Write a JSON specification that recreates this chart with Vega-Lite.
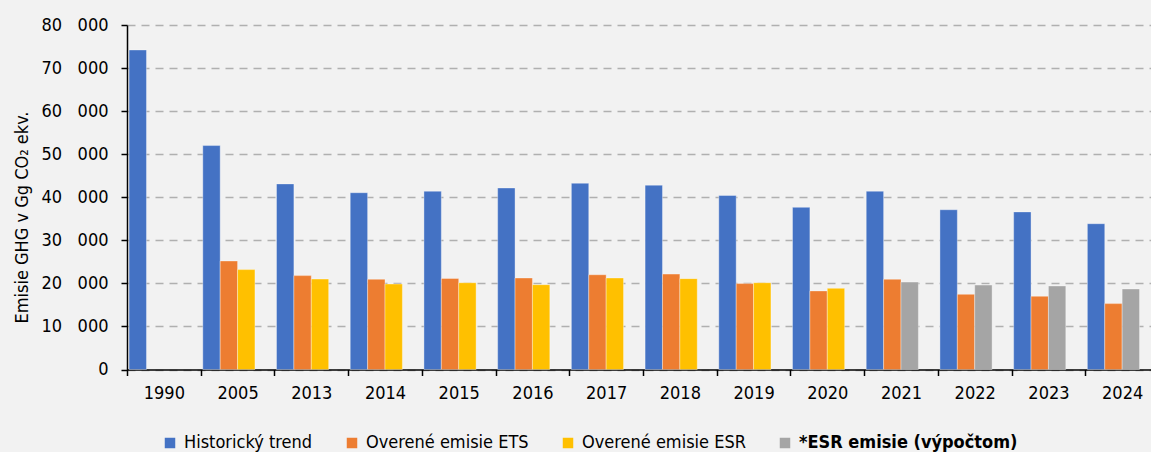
{
  "$schema": "https://vega.github.io/schema/vega-lite/v6.json",
  "autosize": "none",
  "padding": {"left": 127, "top": 25, "right": 0, "bottom": 83},
  "width": 1032,
  "height": 344.5,
  "background": "#f2f2f2",
  "config": {
    "view": {"stroke": null},
    "font": "'Liberation Sans Narrow', 'DejaVu Sans Condensed', sans-serif"
  },
  "data": {
    "values": [
      {"year": "1990", "series": "Historický trend", "slot": "a", "value": 74200},
      {"year": "2005", "series": "Historický trend", "slot": "a", "value": 52000},
      {"year": "2013", "series": "Historický trend", "slot": "a", "value": 43100},
      {"year": "2014", "series": "Historický trend", "slot": "a", "value": 41050},
      {"year": "2015", "series": "Historický trend", "slot": "a", "value": 41400},
      {"year": "2016", "series": "Historický trend", "slot": "a", "value": 42150},
      {"year": "2017", "series": "Historický trend", "slot": "a", "value": 43250},
      {"year": "2018", "series": "Historický trend", "slot": "a", "value": 42800},
      {"year": "2019", "series": "Historický trend", "slot": "a", "value": 40400},
      {"year": "2020", "series": "Historický trend", "slot": "a", "value": 37650},
      {"year": "2021", "series": "Historický trend", "slot": "a", "value": 41400},
      {"year": "2022", "series": "Historický trend", "slot": "a", "value": 37100},
      {"year": "2023", "series": "Historický trend", "slot": "a", "value": 36600},
      {"year": "2024", "series": "Historický trend", "slot": "a", "value": 33850},
      {"year": "2005", "series": "Overené emisie ETS", "slot": "b", "value": 25200},
      {"year": "2013", "series": "Overené emisie ETS", "slot": "b", "value": 21800},
      {"year": "2014", "series": "Overené emisie ETS", "slot": "b", "value": 20950},
      {"year": "2015", "series": "Overené emisie ETS", "slot": "b", "value": 21150},
      {"year": "2016", "series": "Overené emisie ETS", "slot": "b", "value": 21250},
      {"year": "2017", "series": "Overené emisie ETS", "slot": "b", "value": 22000},
      {"year": "2018", "series": "Overené emisie ETS", "slot": "b", "value": 22150},
      {"year": "2019", "series": "Overené emisie ETS", "slot": "b", "value": 19950},
      {"year": "2020", "series": "Overené emisie ETS", "slot": "b", "value": 18250},
      {"year": "2021", "series": "Overené emisie ETS", "slot": "b", "value": 20950},
      {"year": "2022", "series": "Overené emisie ETS", "slot": "b", "value": 17450},
      {"year": "2023", "series": "Overené emisie ETS", "slot": "b", "value": 17000},
      {"year": "2024", "series": "Overené emisie ETS", "slot": "b", "value": 15300},
      {"year": "2005", "series": "Overené emisie ESR", "slot": "c", "value": 23200},
      {"year": "2013", "series": "Overené emisie ESR", "slot": "c", "value": 21000},
      {"year": "2014", "series": "Overené emisie ESR", "slot": "c", "value": 19850},
      {"year": "2015", "series": "Overené emisie ESR", "slot": "c", "value": 20150},
      {"year": "2016", "series": "Overené emisie ESR", "slot": "c", "value": 19700},
      {"year": "2017", "series": "Overené emisie ESR", "slot": "c", "value": 21250},
      {"year": "2018", "series": "Overené emisie ESR", "slot": "c", "value": 21100},
      {"year": "2019", "series": "Overené emisie ESR", "slot": "c", "value": 20150},
      {"year": "2020", "series": "Overené emisie ESR", "slot": "c", "value": 18850},
      {"year": "2021", "series": "*ESR emisie (výpočtom)", "slot": "c", "value": 20300},
      {"year": "2022", "series": "*ESR emisie (výpočtom)", "slot": "c", "value": 19600},
      {"year": "2023", "series": "*ESR emisie (výpočtom)", "slot": "c", "value": 19400},
      {"year": "2024", "series": "*ESR emisie (výpočtom)", "slot": "c", "value": 18700}
    ]
  },
  "mark": {"type": "bar", "stroke": "#ffffff", "strokeOpacity": 0.35, "strokeWidth": 1},
  "encoding": {
    "x": {
      "field": "year",
      "type": "nominal",
      "scale": {"paddingInner": 0, "paddingOuter": 0},
      "axis": {
        "title": null,
        "labelAngle": 0,
        "labelFontSize": 18,
        "labelColor": "#000000",
        "labelPadding": 9,
        "tickBand": "extent",
        "tickSize": 6,
        "tickColor": "#000000",
        "tickWidth": 1.5,
        "domainColor": "#000000",
        "domainWidth": 1.5,
        "grid": false
      }
    },
    "xOffset": {
      "field": "slot",
      "type": "nominal",
      "scale": {"domain": ["a", "b", "c", "d"], "paddingInner": 0, "paddingOuter": 0.12}
    },
    "y": {
      "field": "value",
      "type": "quantitative",
      "scale": {"domain": [0, 80000], "nice": false},
      "axis": {
        "values": [0, 10000, 20000, 30000, 40000, 50000, 60000, 70000, 80000],
        "labelExpr": "replace(format(datum.value, ','), ',', '\u00a0\u00a0\u00a0')",
        "labelFontSize": 18,
        "labelColor": "#000000",
        "labelPadding": 13,
        "tickSize": 6,
        "tickColor": "#000000",
        "tickWidth": 1.5,
        "domainColor": "#000000",
        "domainWidth": 1.5,
        "grid": true,
        "gridDash": [8, 6],
        "gridColor": "#b0b0b0",
        "gridWidth": 1.5,
        "title": "Emisie GHG v Gg CO₂ ekv.",
        "titleFontSize": 18,
        "titleFontWeight": "normal",
        "titleColor": "#000000",
        "titleAngle": -90,
        "titleAlign": "center",
        "titleBaseline": "middle",
        "titleX": -105,
        "titleY": 192
      }
    },
    "color": {
      "field": "series",
      "type": "nominal",
      "scale": {
        "domain": ["Historický trend", "Overené emisie ETS", "Overené emisie ESR", "*ESR emisie (výpočtom)"],
        "range": ["#4472c4", "#ed7d31", "#ffc000", "#a5a5a5"]
      },
      "legend": {
        "title": null,
        "orient": "none",
        "direction": "horizontal",
        "legendX": 34,
        "legendY": 409,
        "symbolType": "square",
        "symbolSize": 110,
        "symbolStrokeWidth": 0,
        "symbolOpacity": 1,
        "labelFontSize": 18,
        "labelColor": "#000000",
        "labelOffset": 5,
        "labelLimit": 400,
        "labelFontWeight": {"expr": "datum.label == '*ESR emisie (výpočtom)' ? 'bold' : 'normal'"},
        "columnPadding": 30
      }
    }
  }
}
